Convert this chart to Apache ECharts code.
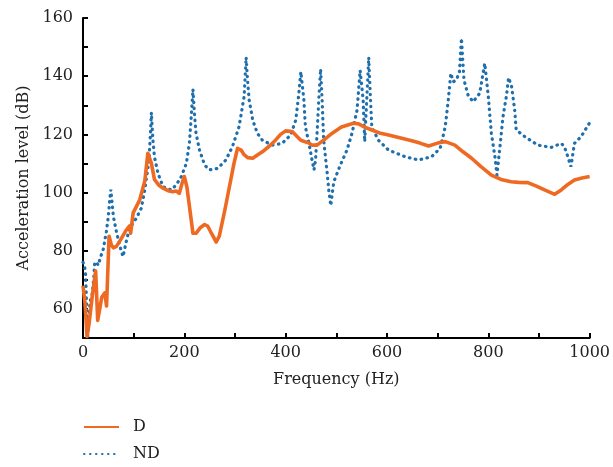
<!DOCTYPE html>
<html><head><meta charset="utf-8">
<script src="https://cdn.jsdelivr.net/npm/echarts@6/dist/echarts.min.js"></script>
<style>html,body{margin:0;padding:0;background:#fff}#c{width:613px;height:467px}</style>
</head><body><div id="c"></div>
<script>
const dFreq = [0,4,8,12,18,25,29,33,37,43,46.5,51.5,56,60,66,75,85,92,94,99,112,122,128,131,135,141,150,158,170,177,184,190,196,200,205,217,223,232,240,246,255,263,269,280,289,298,305,312,318,325,335,345,354,368,380,390,400,413,423,430,446,452,462,475,492,510,534,544,556,570,585,603,625,649,665,682,700,715,734,750,767,785,806,825,845,860,878,895,911,931,944,957,970,985,1000];
const dLevel = [68,62,50.5,55,64,73,56,60,64,65.5,61,85,82,81,81.5,84,87,88.5,86,93,97.5,104,113.5,112,110,104.5,102.5,101.5,100.5,100.3,100.5,99.7,103.5,105.5,102,86,86,88,89,88.5,85.5,83,85,94,102,110,115.2,114.6,113,112,111.8,113,114,116,118,120,121.2,121,119.2,118,117,116.3,116.3,118,120.4,122.5,123.8,123.6,122.5,121.5,120.5,119.8,118.8,117.8,117,116,117,117.5,116.3,114,111.8,109,106,104.5,103.7,103.5,103.4,102.2,100.9,99.4,100.9,102.8,104.3,105,105.5];
const ndFreq = [0,3,5,7,8,9,11,14,18,21,23,27,30,35,40,46,50,53,55,57,60,66,73,79,86,92,105,115,122,126,130,133,135,138,141,148,158,174,184,194,204,210,214,217,220,223,230,240,249,266,282,295,308,318,322,325,328,335,344,354,374,393,410,420,426,430,433,436,439,446,452,456,459,462,466,469,472,475,482,485,489,495,508,521,531,541,547,553,556,560,564,567,570,583,603,636,662,688,705,715,721,726,731,737,743,747,752,760,770,783,793,800,806,813,817,823,829,836,840,846,852,855,872,898,924,944,950,957,963,970,983,1000];
const ndLevel = [76,75,72,62,55,50,56,62.5,65,70,76,76,75,78,80.5,86.5,91.7,98,101,97,91.7,86.5,81.4,78,83.7,87.7,91.1,94.6,100.9,106,110.6,120,127.5,118,112.3,106.6,102,100.9,102.6,105.5,110,117,127,135.5,127,120.4,114.6,109.5,107.8,108.3,111.2,115.8,122.6,133,146.5,138,131.8,124.9,120.4,118,116.3,116.9,119.8,124.9,134,141.5,142,131.8,122.6,116.9,111.2,107.8,111.2,120.4,134,142.5,131.8,118,106.6,101,95.5,103.7,109.5,114.6,120.4,128.4,142,131.8,117.5,131.8,146.5,134,122.6,118,114.6,112.3,111.2,112.3,115.2,122.6,131.8,141,138.1,138.7,141.5,153,138.7,133.5,131.2,134.1,144.4,133,120.4,112.3,106,115.8,126.1,133.5,139.5,136.4,128.4,121.5,119.2,116.3,115.5,116.9,115.8,112.3,108.9,116.9,119.2,124];
const seriesNames = ['D','ND'];
const xLabelEvery = 200, yLabelEvery = 20;

const font = '"DejaVu Serif", "Liberation Serif", serif';
const zip = (a,b) => a.map((v,i)=>[v,b[i]]);
const chart = echarts.init(document.getElementById('c'), null, {renderer:'canvas'});
chart.setOption({
  animation:false,
  backgroundColor:'#fff',
  grid:{left:83,right:21,top:18,bottom:129,containLabel:false},
  xAxis:{type:'value',min:0,max:1000,interval:100,
    name:'Frequency (Hz)',nameLocation:'middle',nameGap:34,
    nameTextStyle:{fontFamily:font,fontSize:16,color:'#222'},
    axisLine:{lineStyle:{color:'#000',width:2}},
    axisTick:{inside:true,length:5,lineStyle:{color:'#000',width:2}},
    axisLabel:{fontFamily:font,fontSize:16,color:'#222',margin:7,
      formatter:v=> v%xLabelEvery===0 ? String(v) : ''},
    splitLine:{show:false}},
  yAxis:{type:'value',min:50,max:160,interval:10,
    name:'Acceleration level (dB)',nameLocation:'middle',nameGap:45,
    nameTextStyle:{fontFamily:font,fontSize:16,color:'#222'},
    axisLine:{show:true,lineStyle:{color:'#000',width:2}},
    axisTick:{show:true,inside:true,length:5,lineStyle:{color:'#000',width:2}},
    axisLabel:{fontFamily:font,fontSize:16,color:'#222',margin:10,
      formatter:v=> v%yLabelEvery===0 ? String(v) : ''},
    splitLine:{show:false}},
  legend:{orient:'vertical',left:83,top:419,padding:0,itemWidth:35,itemHeight:14,itemGap:11,
    itemStyle:{opacity:0},
    textStyle:{fontFamily:font,fontSize:16,color:'#222',padding:[0,0,0,9]},
    data:seriesNames},
  series:[
    {name:seriesNames[1],type:'line',data:zip(ndFreq,ndLevel),symbol:'none',
      lineStyle:{color:'#1f6fad',width:3.2,type:[0.5,5.5],cap:'round'},itemStyle:{color:'#1f6fad'},z:2},
    {name:seriesNames[0],type:'line',data:zip(dFreq,dLevel),symbol:'none',
      lineStyle:{color:'#ee6a22',width:3.6,join:'round'},itemStyle:{color:'#ee6a22'},z:3}
  ]
});
</script></body></html>
